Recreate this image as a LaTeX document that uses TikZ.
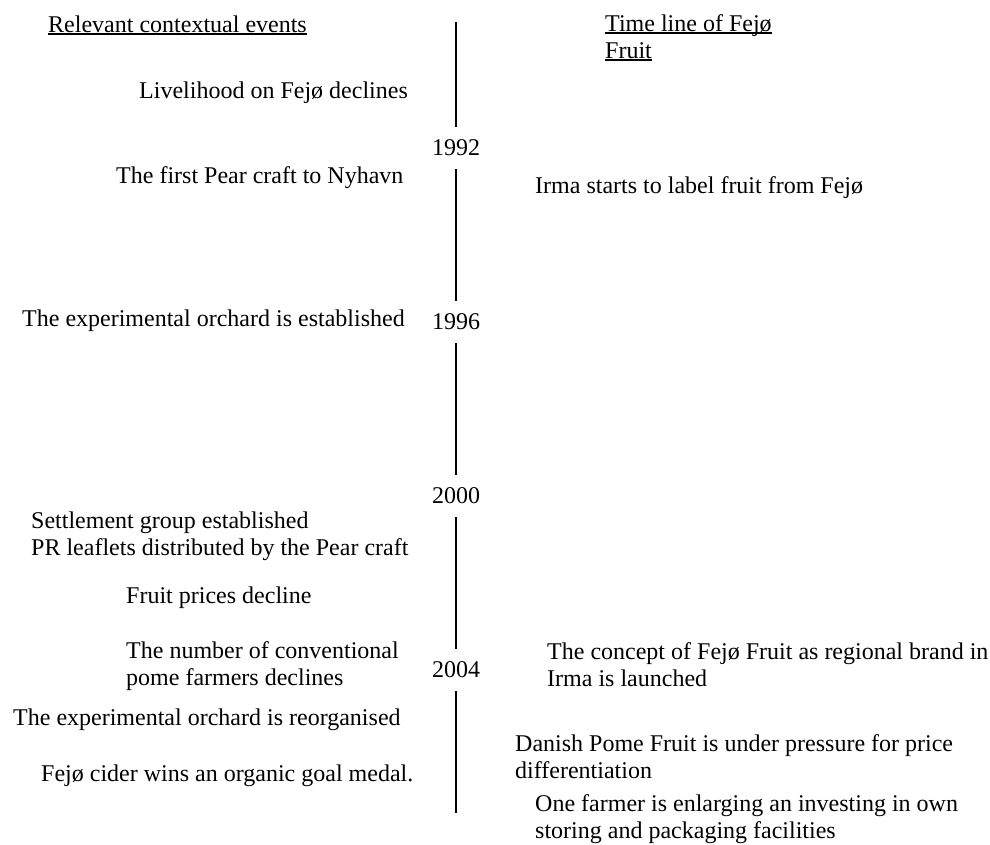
\documentclass[tikz,border=0pt]{standalone}
\usepackage{fontspec}
\setmainfont{Liberation Serif}
\newcommand{\ulin}[1]{\setbox0\hbox{#1}\rlap{\rule[-2.6pt]{\wd0}{1.5pt}}\box0}
\begin{document}
\begin{tikzpicture}[x=1pt,y=-1pt,
    ev/.style={anchor=base west,inner sep=0pt,align=left,font=\fontsize{24}{27}\selectfont},
    yr/.style={inner sep=0pt,minimum height=42pt,font=\fontsize{24}{27}\selectfont},
    tl/.style={line width=1.6pt}]
            \useasboundingbox (0,0) rectangle (990,844);
            % headings (base = last line)
            \node[ev] (HL) at (48,32) {\ulin{Relevant contextual events}};
            \node[ev] (HR) at (605,58) {\ulin{Time line of Fejø}\\\ulin{Fruit}};
            
            % time line
            \coordinate (T) at (456,22);
            \node[yr] (Y92) at (456,148) {1992};
            \node[yr] (Y96) at (456,322) {1996};
            \node[yr] (Y00) at (456,496) {2000};
            \node[yr] (Y04) at (456,670) {2004};
            \coordinate (B) at (456,813);
            
            % contextual events
            \node[ev] (L1) at (139,98) {Livelihood on Fejø declines};
            \node[ev] (L2) at (116,183) {The first Pear craft to Nyhavn};
            \node[ev] (L3) at (22,326) {The experimental orchard is established};
            \node[ev] (L4) at (31,555) {Settlement group established\\PR leaflets distributed by the Pear craft};
            \node[ev] (L5) at (126,603) {Fruit prices decline};
            \node[ev] (L6) at (126,685) {The number of conventional\\pome farmers declines};
            \node[ev] (L7) at (13,725) {The experimental orchard is reorganised};
            \node[ev] (L8) at (41,781) {Fejø cider wins an organic goal medal.};
            
            % Fejø Fruit
            \node[ev] (R1) at (535,193) {Irma starts to label fruit from Fejø};
            \node[ev] (R2) at (547,686) {The concept of Fejø Fruit as regional brand in\\Irma is launched};
            \node[ev] (R3) at (515,778) {Danish Pome Fruit is under pressure for price\\differentiation};
            \node[ev] (R4) at (535,838) {One farmer is enlarging an investing in own\\storing and packaging facilities};
            
            \draw[tl] (T) -- (Y92) -- (Y96) -- (Y00) -- (Y04) -- (B);
          \end{tikzpicture}
\end{document}
